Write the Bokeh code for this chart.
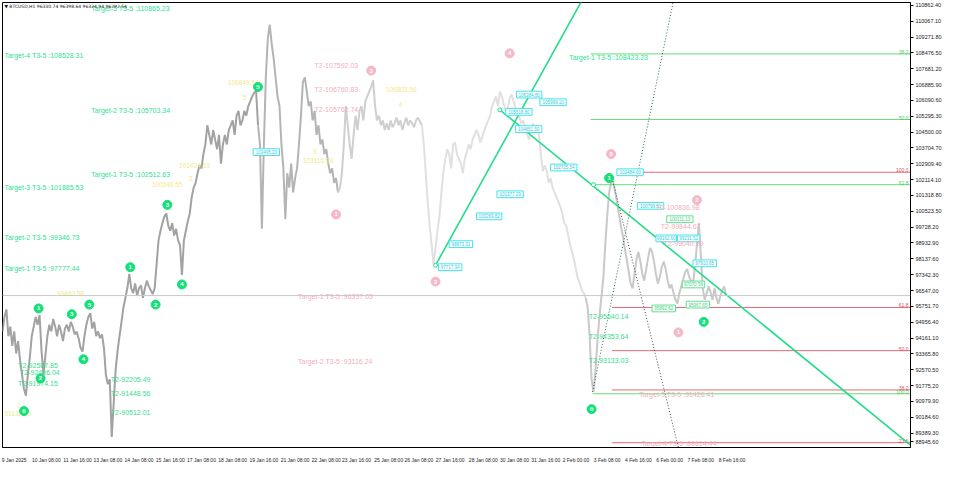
from bokeh.plotting import figure
from bokeh.models import FixedTicker, NumeralTickFormatter, Range1d, Label, Span
from bokeh.embed import file_html
from bokeh.resources import INLINE
from bokeh.core.properties import value

FONT = "Liberation Sans"

# ---------------- data ----------------
symbol_header = "\u25bc BTCUSD,H1  96330.74 96398.64 96324.94 96292.54"
last_price = 96292.54

# H1 closes by wave section (bar index, price)
wave_a_bar = [2,4,6,8,10,12,14,16,18,20,22,24,26,28,30,32,34,36,38,40,42,44,46,48,50,52,54,56,58,60,
              62,64,66,68,70,72,74,76,78,80,82,84,86,88,90,92,94,96,98,100,102,104,106,108,110,112,114,116,118,120,
              122,124,126,128,130,132,134,136,138,140,142,144,146,148,150,152,154,156,158,160,162,164,166,168,170,172,174,176,178,180,
              182,184,186,188,190,192,194,196,198,200,202,204,206,208,210,212,214,216,218,220,222,224,226,228,230,232,234,236,238,240,
              242,244,246,248,250,252,254,256,258,260,262,264]
wave_a_close = [94491,95214,95599,94251,94732,93769,94491,93384,94010,93047,92325,91602,91265,92325,93191,94251,94732,95214,94828,95310,
                93528,92325,93288,94251,94828,94491,95117,94732,94251,94828,94491,94010,94636,94828,94491,94973,94732,94347,94491,94154,
                93673,93480,94251,94828,95214,95406,94636,94973,94251,94491,94154,94347,93673,92325,91843,92084,89200,90880,92565,93528,
                94251,94973,95695,96177,96658,97380,96658,96417,96899,96273,96658,96802,96177,96658,97043,96754,96562,96369,96658,97862,
                99066,99547,99932,100269,100414,99788,99547,99932,99306,99643,99066,98825,97332,99066,99547,100029,100414,101232,101714,101955,
                102436,102821,102677,103399,103880,104843,104362,103880,104603,104121,103640,104362,102918,103880,104362,103880,104603,104843,105084,104362,
                105325,105566,104843,105084,105566,105325,105807,106047,106288,106481,106577,104843]

wave_b_bar = [264,266,268,270,272,274,276,278,280,282,284,286,288,290,292,294,296,298,300,302,304,306,308,310,312,314,316,318,320,322,
              324,326,328,330,332,334,336,338,340,342,344,346]
wave_b_close = [104843,103880,99643,103880,107251,109177,109899,108936,108214,107251,106288,105807,103880,102677,100125,102436,101714,102918,101473,102195,
                102677,103880,105325,107010,107251,106529,105807,106047,105084,105566,104362,104843,103880,104121,103399,103640,102918,102436,102677,101955,
                102195,101473]

wave_c_bar = [346,348,350,352,354,356,358,360,362,364,366,368,370,372,374,376,378,380,382,384,386,388,390,392,394,396,398,400,402,404,
              406,408,410,412,414,416,418,420,422,424,426,428,430,432]
wave_c_close = [101473,101714,102436,103880,105807,104843,103880,103158,104362,105325,104603,105566,105807,105084,106047,106288,106529,106770,107107,105807,
                105084,105325,104843,105084,104603,104940,104603,105084,104747,104940,105229,104843,105084,104603,104940,105229,104843,105084,104940,104747,
                105084,105229,105036,104843]

wave_d_bar = [432,434,436,438,440,442,444,446,448,450,452,454,456,458,460,462,464,466,468,470,472,474,476,478,480,482,484,486,488,490,
              492,494,496,498,500,502,504,506,508,510,512,514,516,518,520,522,524,526,528,530,532,534,536,538,540,542,544,546,548,550,
              552,554,556,558,560,562,564,566,568,570,572,574,576,578,580,582,584,586,588,590,592,594,596,598,600]
wave_d_close = [104843,103880,102436,100992,99788,98825,97862,98680,99547,100269,101473,102436,103158,103640,103399,102677,103880,103977,103399,103158,
                102918,102436,103158,103495,103880,103640,104121,104362,104603,104362,103977,104266,104603,104843,105084,105325,105807,106047,106288,105807,
                106529,106288,105903,105566,105710,106192,106384,106047,105710,105421,105229,104940,105084,104747,104362,104121,104747,104940,104603,104747,
                104362,103399,102532,102821,102532,101955,102195,101714,101473,101232,100992,100751,100414,99932,99788,99306,98825,98488,98103,97621,
                97140,96899,96562,96417,96177]

wave_e_bar = [600,602,604,606,608,610,612,614,616,618,620,622,624,626,628,630,632,634,636,638,640,642,644,646,648,650,652,654,656,658,
              660,662,664,666,668,670,672,674,676,678,680,682,684,686,688,690,692,694,696,698,700,702,704,706,708,710,712,714,716,718,
              720,722,724,726,728,730,732,734,736,738,740,742,744]
wave_e_close = [96177,95695,94251,92084,91458,92565,94010,95214,96177,97140,98825,100269,101473,101955,102051,101569,100992,100414,99788,99306,
                98680,98103,97525,96899,96658,97380,98103,98488,98006,97380,97043,97621,98199,98680,98488,98006,97380,96899,97236,97717,
                98006,97621,97043,96658,96851,96417,96080,95888,96417,96754,97140,97477,97621,97236,97043,96851,97717,98825,99932,98343,
                96658,96080,96417,96754,96465,96080,96658,96177,95888,96273,96562,96754,96293]

# right price scale
price_ticks = [110862.40,110067.10,109271.80,108476.50,107681.20,106885.90,106090.60,105295.30,104500.00,103704.70,
               102909.40,102114.10,101318.80,100523.50,99728.20,98932.90,98137.60,97342.30,96547.00,95751.70,
               94956.40,94161.10,93365.80,92570.50,91775.20,90979.90,90184.60,89389.30,88945.60]

# time scale
date_tick_bar = [2,35,67,98,130,162,194,226,258,290,322,353,386,417,449,483,515,547,578,610,642,674,706,738]
date_tick_label = ["9 Jan 2025","10 Jan 08:00","11 Jan 16:00","13 Jan 08:00","14 Jan 08:00","15 Jan 16:00",
                   "17 Jan 08:00","18 Jan 08:00","19 Jan 16:00","21 Jan 08:00","22 Jan 08:00","23 Jan 16:00",
                   "25 Jan 08:00","26 Jan 08:00","27 Jan 16:00","28 Jan 08:00","30 Jan 08:00","31 Jan 16:00",
                   "2 Feb 00:00","3 Feb 08:00","4 Feb 16:00","6 Feb 00:00","7 Feb 08:00","8 Feb 16:00"]

# fibonacci levels
level_start = [605, 605, 658, 608, 627, 627, 627, 607, 627]
level_price = [108423.23, 105132, 102484, 101858, 95695, 93528, 91554, 91362, 88906]
level_tag = ["38.2", "50.0", "100.0", "61.8", "61.8", "50.0", "38.2", "100.0", "23.6"]
level_up = [True, True, False, True, False, False, False, True, False]

# trend lines
trend_a_bar = [446, 596]; trend_a_price = [97814, 111103]
trend_b_bar = [512, 933]; trend_b_price = [105614, 88785]
fan_a_bar = [607, 690];   fan_a_price = [91458, 111103]
fan_b_bar = [627, 695];   fan_b_price = [102195, 88665]
anchor_bar = [446, 512, 608]
anchor_price = [97814, 105614, 101858]

# wave counts
green_count_bar = [24, 39, 41, 73, 85, 91, 133, 159, 171, 186, 264, 624, 606, 721]
green_count_price = [90495, 95647, 92132, 95358, 93095, 95839, 97717, 95839, 100847, 96851, 106770, 102195, 90591, 94973]
green_count_text = ["0", "1", "2", "3", "4", "5", "1", "2", "3", "4", "5", "1", "0", "2"]

pink_count_bar = [380, 344, 446, 522, 626, 714, 695]
pink_count_price = [107588, 100366, 96995, 108455, 103399, 101088, 94443]
pink_count_text = ["3", "1", "3", "4", "0", "2", "1"]

# target labels
green_target_bar = [93, 4, 93, 93, 4, 4, 4, 583]
green_target_price = [110718, 108358, 105566, 102388, 101714, 99210, 97669, 108262]
green_target_text = ["Target-5 T3-5 :110865.23", "Target-4 T3-5 :108528.31", "Target-2 T3-5 :105703.34",
                     "Target-1 T3-5 :102512.63", "Target-3 T3-5 :101885.53", "Target-2 T3-5 :99346.73",
                     "Target-1 T3-5 :97777.44", "Target-1 T3-5 :108423.23"]

green_t2_bar = [18, 20, 18, 113, 113, 113, 603, 603, 603]
green_t2_price = [92806, 92421, 91891, 92084, 91362, 90447, 95262, 94251, 93047]
green_t2_text = ["T2-92587.85", "T2-92406.04", "T2-91974.15", "T2-92205.49", "T2-91448.56", "T2-90512.01",
                 "T2-95540.14", "T2-94353.64", "T2-93133.03"]

pink_text_bar = [322, 322, 322, 672, 677, 680, 305, 305, 655, 657]
pink_text_price = [107829, 106625, 105614, 100703, 99739, 98921, 96224, 92999, 91314, 88858]
pink_text_text = ["T2-107592.03", "T2-106760.83", "T2-105762.74", "T2-100836.98", "T2-99844.67", "T2-99040.29",
                  "Target-1 T3-5 :96337.03", "Target-2 T3-5 :93116.24", "Target-3 T3-5 :91426.41",
                  "Target-4 T3-5 :88614.44"]

yellow_bar = [233, 395, 310, 183, 155, 58, 4, 248, 320, 408, 193, 17]
yellow_price = [107010, 106625, 103062, 102821, 101858, 96417, 90350, 106240, 103543, 105903, 102147, 90784]
yellow_text = ["106849.54", "106803.56", "103116.33", "101424.63", "100546.55", "95460.58", "91132.50",
               "5", "3", "4", "3", "1"]

# price boxes
box_left = [259, 449, 460, 488, 509, 529, 553, 518, 528, 564, 632, 653, 683, 672, 694, 710, 699, 668, 703]
box_right = [286, 473, 484, 514, 536, 555, 580, 545, 555, 591, 659, 680, 710, 693, 717, 734, 722, 692, 727]
box_price = [103495, 97717, 98873, 100269, 101377, 106384, 105999, 105518, 104651, 102725, 102484, 100799,
             100125, 99162, 99162, 97910, 96851, 95647, 95839]
box_text = ["103495.20", "97717.34", "98873.31", "100269.82", "101377.29", "106384.80", "105999.10", "105518.80",
            "104651.50", "102725.54", "102484.00", "100799.51", "100111.13", "99162.60", "99231.52", "97910.65",
            "97070.56", "95892.62", "95967.65"]
box_green = [False, False, False, False, False, False, False, False, False, False, False, False,
             True, False, False, False, True, True, True]

# ---------------- figure ----------------
p = figure(width=944, height=465, x_range=Range1d(2, 933), y_range=Range1d(88665, 111007),
           output_backend="svg", toolbar_location=None, y_axis_location="right",
           min_border_left=2, min_border_top=2, min_border_bottom=0, min_border_right=0)
p.outline_line_color = "black"
p.outline_line_width = 1
p.xgrid.visible = False
p.ygrid.visible = False
p.background_fill_color = "white"

yax = p.yaxis[0]
yax.ticker = FixedTicker(ticks=price_ticks)
yax.formatter = NumeralTickFormatter(format="0.00")
yax.major_label_text_font = FONT
yax.major_label_text_font_size = "5.5px"
yax.major_label_text_color = "#222222"
yax.major_tick_out = 3
yax.major_tick_in = 0
yax.minor_tick_line_color = None
yax.major_label_standoff = 2
yax.axis_line_color = "black"

xax = p.xaxis[0]
tick_pos = [b + 12 for b in date_tick_bar]
xax.ticker = FixedTicker(ticks=tick_pos)
xax.major_label_overrides = {t: l for t, l in zip(tick_pos, date_tick_label)}
xax.major_label_text_font = FONT
xax.major_label_text_font_size = "5px"
xax.major_label_text_color = "#222222"
xax.major_tick_line_color = None
xax.minor_tick_line_color = None
xax.major_label_standoff = 3
xax.axis_line_color = "black"

# current price line
p.add_layout(Span(location=last_price, dimension="width", line_color="#c8c8c8", line_width=1))

# price path
p.line(wave_a_bar, wave_a_close, line_color="#a2a2a2", line_width=2)
p.line(wave_b_bar, wave_b_close, line_color="#b4b4b4", line_width=2)
p.line(wave_c_bar, wave_c_close, line_color="#cfcfcf", line_width=2)
p.line(wave_d_bar, wave_d_close, line_color="#e0e0e0", line_width=2)
p.line(wave_e_bar, wave_e_close, line_color="#c9c9c9", line_width=2)

# fibonacci levels
lvl_col = ["#66dd77" if u else "#e66a78" for u in level_up]
lvl_txt_col = ["#4fc963" if u else "#d9505f" for u in level_up]
p.segment(x0=level_start, x1=[933] * len(level_price), y0=level_price, y1=level_price,
          line_color=lvl_col, line_width=1)
p.text(x=[931] * len(level_price), y=level_price, text=level_tag, text_color=lvl_txt_col,
       text_font=value(FONT), text_font_size="5px", text_align="right", text_baseline="bottom")

# trend lines
p.line(trend_a_bar, trend_a_price, line_color="#22dd88", line_width=1.6)
p.line(trend_b_bar, trend_b_price, line_color="#22dd88", line_width=1.6)
p.line(fan_a_bar, fan_a_price, line_color="#2f6a3f", line_width=1, line_dash="1 2")
p.line(fan_b_bar, fan_b_price, line_color="#3a4a40", line_width=1, line_dash="1 2")
p.scatter(anchor_bar, anchor_price, marker="circle", size=4, fill_color="white",
          line_color="#22dd88", line_width=1)

# price boxes
half_h = 170
p.quad(left=box_left, right=box_right, top=[v + half_h for v in box_price],
       bottom=[v - half_h for v in box_price], fill_color="white",
       line_color=["#5fe08f" if g else "#3fe3ef" for g in box_green], line_width=1)
p.text(x=[(a + b) / 2 for a, b in zip(box_left, box_right)], y=box_price, text=box_text,
       text_color=["#3fcf7f" if g else "#2ccbe0" for g in box_green],
       text_font=value(FONT), text_font_size="4.5px", text_align="center", text_baseline="middle")

# texts
p.text(x=yellow_bar, y=yellow_price, text=yellow_text, text_color="#f4e98c",
       text_font=value(FONT), text_font_size="6.5px", text_align="left", text_baseline="middle")
p.text(x=pink_text_bar, y=pink_text_price, text=pink_text_text, text_color="#f2aebc",
       text_font=value(FONT), text_font_size="7px", text_align="left", text_baseline="middle")
p.text(x=green_target_bar, y=green_target_price, text=green_target_text, text_color="#2fe295",
       text_font=value(FONT), text_font_size="7px", text_align="left", text_baseline="middle")
p.text(x=green_t2_bar, y=green_t2_price, text=green_t2_text, text_color="#38dc8e",
       text_font=value(FONT), text_font_size="7px", text_align="left", text_baseline="middle")

# wave counts
p.scatter(green_count_bar, green_count_price, marker="circle", size=9, fill_color="#17df7a",
          line_color="#17df7a")
p.text(x=green_count_bar, y=green_count_price, text=green_count_text, text_color="white",
       text_font=value(FONT), text_font_size="6px", text_font_style="bold",
       text_align="center", text_baseline="middle")
p.scatter(pink_count_bar, pink_count_price, marker="circle", size=9, fill_color="#f5b8c6",
          line_color="#f5b8c6")
p.text(x=pink_count_bar, y=pink_count_price, text=pink_count_text, text_color="white",
       text_font=value(FONT), text_font_size="6px", text_font_style="bold",
       text_align="center", text_baseline="middle")

# header
p.text(x=[4], y=[110814], text=[symbol_header], text_color="#111111",
       text_font=value("DejaVu Sans"), text_font_size="4.5px", text_align="left", text_baseline="middle")

# last price tag on the scale
p.add_layout(Label(x=933, y=last_price, text="96292.54", text_color="white", text_font=FONT,
                   text_font_size="5.5px", background_fill_color="black", text_baseline="middle",
                   x_offset=2))

open("out.html", "w").write(file_html(p, INLINE))
